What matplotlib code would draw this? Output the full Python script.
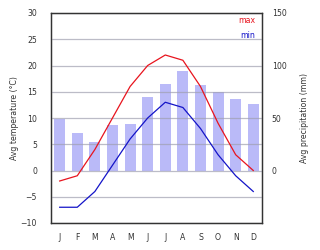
import matplotlib
matplotlib.use("Agg")
from matplotlib import pyplot as plt

months = ["J", "F", "M", "A", "M", "J", "J", "A", "S", "O", "N", "D"]
t_max = [-2, -1, 4, 10, 16, 20, 22, 21, 16, 9, 3, 0]
t_min = [-7, -7, -4, 1, 6, 10, 13, 12, 8, 3, -1, -4]
precip = [49, 36, 27, 43, 44, 70, 82, 95, 81, 75, 68, 63]

x = list(range(len(months)))

fig = plt.figure(figsize=(3.2, 2.5), dpi=100)
ax = fig.add_axes([0.159, 0.108, 0.66, 0.84])
ax2 = ax.twinx()

# bars behind, lines in front
ax.set_zorder(ax2.get_zorder() + 1)
ax.patch.set_visible(False)
ax2.set_facecolor("#eeeefc")

ax2.bar(x, precip, width=0.62, color="#babaf8", zorder=1)
ax2.set_ylim(-50, 150)
ax2.set_yticks([0, 50, 100, 150])

ax.plot(x, t_max, color="#e8141e", lw=0.9, zorder=3)
ax.plot(x, t_min, color="#1414c8", lw=0.9, zorder=3)
ax.set_ylim(-10, 30)
ax.set_xlim(-0.5, 11.5)
ax.set_yticks(range(-10, 31, 5))
ax.set_xticks(x)
ax.set_xticklabels(months)
ax.grid(axis="y", color="#a0a0b0", lw=0.9, alpha=0.7, zorder=2)

fs = 5.6
for a in (ax, ax2):
    a.tick_params(length=0, labelsize=fs, labelcolor="#333333")
    for s in a.spines.values():
        s.set_color("#333333")
        s.set_linewidth(0.9)
ax.tick_params(axis="y", pad=10)
ax.tick_params(axis="x", pad=7)
ax2.tick_params(axis="y", pad=7)

ax.set_ylabel("Avg temperature (°C)", fontsize=fs, labelpad=1, color="#333333")
ax2.set_ylabel("Avg precipitation (mm)", fontsize=fs, labelpad=10, color="#333333")

ax.text(0.967, 0.962, "max", color="#e8141e", fontsize=fs,
        ha="right", va="center", transform=ax.transAxes)
ax.text(0.967, 0.895, "min", color="#1414c8", fontsize=fs,
        ha="right", va="center", transform=ax.transAxes)

fig.savefig("out.png", dpi=100)
